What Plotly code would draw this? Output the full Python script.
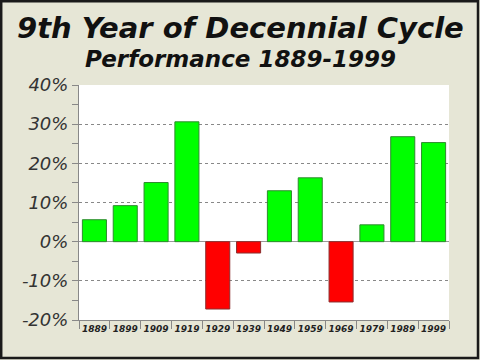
import plotly.graph_objects as go

years = ["1889", "1899", "1909", "1919", "1929", "1939", "1949", "1959", "1969", "1979", "1989", "1999"]
returns = [5.6, 9.2, 15.1, 30.6, -17.2, -2.9, 13.0, 16.3, -15.4, 4.3, 26.8, 25.3]

fill = ["#00FF00" if v >= 0 else "#FF0000" for v in returns]
edge = ["#2E8B2E" if v >= 0 else "#8B2E2E" for v in returns]

L, R, T, B = 79, 31, 85, 40
W, H = 480, 360
pw, ph = W - L - R, H - T - B

def px(x):
    return (x - L) / pw

def py(y):
    return (H - B - y) / ph

fig = go.Figure(go.Bar(
    x=years, y=returns,
    marker=dict(color=fill, line=dict(color=edge, width=1)),
    width=0.78,
    hoverinfo="skip",
))

fig.update_layout(
    width=W, height=H,
    margin=dict(l=L, r=R, t=T, b=B, pad=0, autoexpand=False),
    paper_bgcolor="#E6E6D6",
    plot_bgcolor="#FFFFFF",
    showlegend=False,
    font=dict(family="DejaVu Sans", color="#222"),
    shapes=[
        dict(type="rect", xref="paper", yref="paper",
             x0=px(1.2), x1=px(478), y0=py(358), y1=py(1.2),
             line=dict(color="#1a1a1a", width=2.5), layer="below"),
    ],
    annotations=[
        dict(text="<b><i>9th Year of Decennial Cycle</i></b>", xref="paper", yref="paper",
             x=px(240), y=py(28), showarrow=False, xanchor="center", yanchor="middle",
             font=dict(family="DejaVu Sans", size=29, color="#111")),
        dict(text="<b><i>Performance 1889-1999</i></b>", xref="paper", yref="paper",
             x=px(240), y=py(59), showarrow=False, xanchor="center", yanchor="middle",
             font=dict(family="DejaVu Sans", size=23, color="#111")),
    ],
)

fig.update_xaxes(
    type="category",
    automargin=False,
    showgrid=False,
    showline=True, linecolor="#888", linewidth=1,
    ticks="outside", tickson="boundaries", ticklen=8, tickcolor="#888",
    tickangle=0,
    tickfont=dict(family="DejaVu Sans", size=9, color="#222"),
    tickprefix="<b><i>", ticksuffix="</i></b>",
)

fig.update_yaxes(
    automargin=False,
    range=[-20, 40],
    tickvals=[-20, -10, 0, 10, 20, 30, 40],
    ticktext=["<i>-20%</i>", "<i>-10%</i>", "<i>0%</i>", "<i>10%</i>", "<i>20%</i>", "<i>30%</i>", "<i>40%</i>"],
    showgrid=True, gridcolor="#888", griddash="dot", gridwidth=1,
    zeroline=True, zerolinecolor="#999", zerolinewidth=1,
    showline=True, linecolor="#888", linewidth=1,
    ticks="outside", ticklen=6, tickcolor="#888",
    minor=dict(dtick=5, ticks="outside", ticklen=6, tickcolor="#888", showgrid=False),
    tickfont=dict(family="DejaVu Sans", size=18, color="#333"),
)

fig.write_html("out.html", config={"displayModeBar": False},
               post_script="document.body.style.margin='0';")
